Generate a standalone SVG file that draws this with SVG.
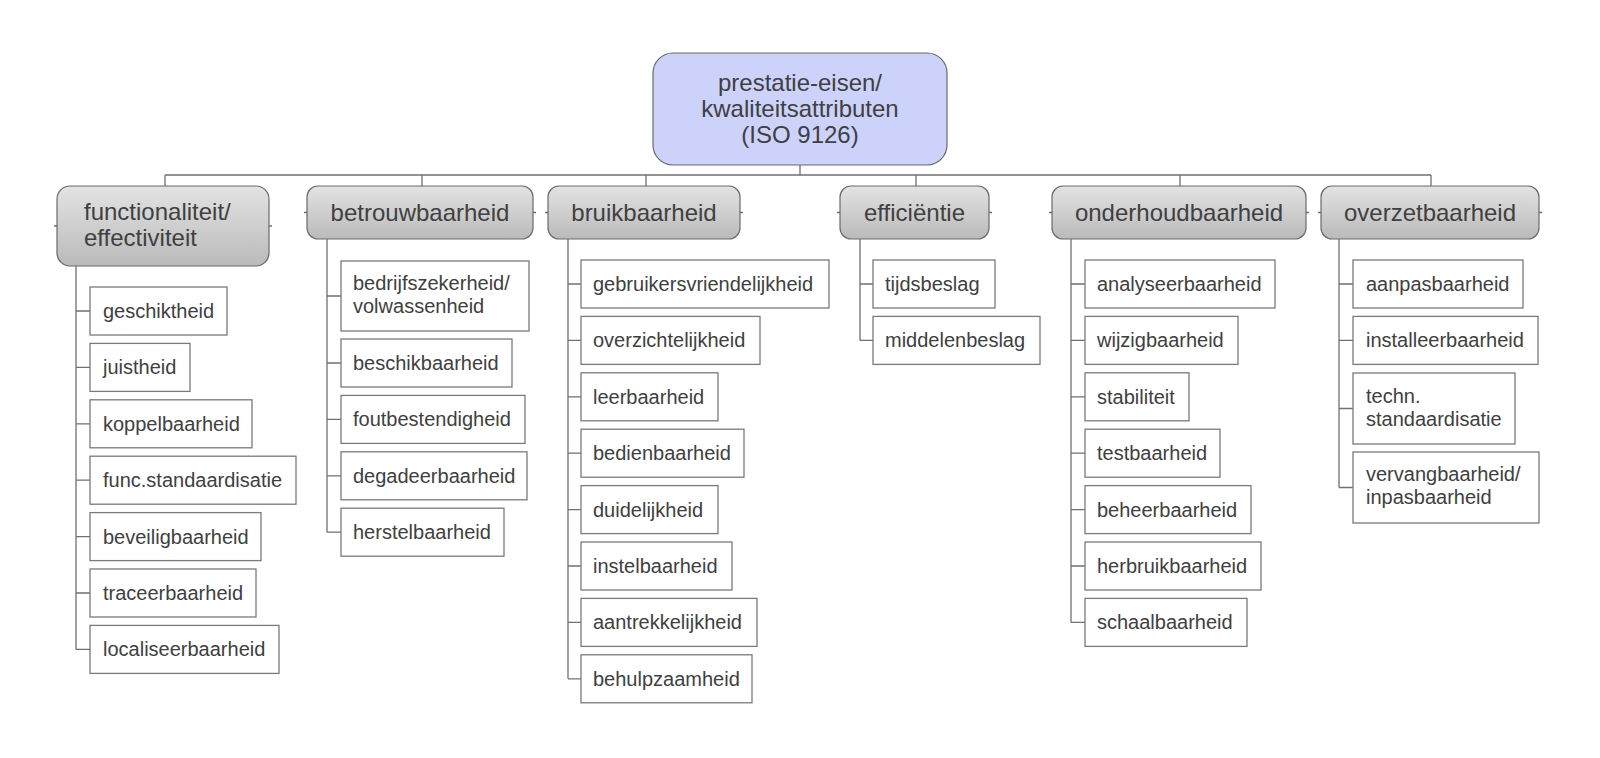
<svg xmlns="http://www.w3.org/2000/svg" width="1600" height="758" viewBox="0 0 1600 758">
<defs>
<linearGradient id="gTop" x1="0" y1="0" x2="0" y2="1">
<stop offset="0" stop-color="#e3e3e3"/>
<stop offset="1" stop-color="#bababa"/>
</linearGradient>
</defs>
<style>
text{font-family:"Liberation Sans",Arial,sans-serif;fill:#404040}
.root rect{fill:#ccd2fa;stroke:#6a6a6a;stroke-width:1.2}
.root text{font-size:24px;text-anchor:middle}
.top rect{fill:url(#gTop);stroke:#6a6a6a;stroke-width:1.2}
.top text{font-size:24px}
.top text.c{text-anchor:middle}
.leaf rect{fill:#fff;stroke:#7a7a7a;stroke-width:1.3}
.leaf text{font-size:20px}
#connectors path{fill:none;stroke:#707070;stroke-width:1.3}
</style>
<rect width="1600" height="758" fill="#fff"/>
<g id="connectors">
<path d="M800 165V175M165 175H1431M165 175V186M422 175V186M646 175V186M916 175V186M1180 175V186M1431 175V186"/>
<path d="M54 226H57M269 226H272M304 212.5H307M533 212.5H536M545 212.5H548M740 212.5H743M837 212.5H840M989 212.5H992M1049 212.5H1052M1306 212.5H1309M1318 212.5H1321M1539 212.5H1542"/>
<path d="M76 266V649.4M76 311H90M76 367.4H90M76 423.8H90M76 480.2H90M76 536.6H90M76 593H90M76 649.4H90"/>
<path d="M327 239V532.2M327 296H341M327 363H341M327 419.4H341M327 475.8H341M327 532.2H341"/>
<path d="M568 239V678.8M568 284H581M568 340.4H581M568 396.8H581M568 453.2H581M568 509.6H581M568 566H581M568 622.4H581M568 678.8H581"/>
<path d="M860 239V340.4M860 284H873M860 340.4H873"/>
<path d="M1071 239V622.4M1071 284H1085M1071 340.4H1085M1071 396.8H1085M1071 453.2H1085M1071 509.6H1085M1071 566H1085M1071 622.4H1085"/>
<path d="M1339 239V487.5M1339 284H1353M1339 340.4H1353M1339 408.5H1353M1339 487.5H1353"/>
</g>
<g id="root" class="root">
<rect x="653" y="53" width="294" height="112" rx="20"/>
<text x="800" y="91">prestatie-eisen/</text>
<text x="800" y="117">kwaliteitsattributen</text>
<text x="800" y="143">(ISO 9126)</text>
</g>
<g id="functionaliteit" class="top">
<rect x="57" y="186" width="212" height="80" rx="13"/>
<text x="84" y="220">functionaliteit/</text>
<text x="84" y="246">effectiviteit</text>
</g>
<g id="betrouwbaarheid" class="top">
<rect x="307" y="186" width="226" height="53" rx="11"/>
<text class="c" x="420" y="221">betrouwbaarheid</text>
</g>
<g id="bruikbaarheid" class="top">
<rect x="548" y="186" width="192" height="53" rx="11"/>
<text class="c" x="644" y="221">bruikbaarheid</text>
</g>
<g id="efficientie" class="top">
<rect x="840" y="186" width="149" height="53" rx="11"/>
<text class="c" x="914.5" y="221">efficiëntie</text>
</g>
<g id="onderhoudbaarheid" class="top">
<rect x="1052" y="186" width="254" height="53" rx="11"/>
<text class="c" x="1179" y="221">onderhoudbaarheid</text>
</g>
<g id="overzetbaarheid" class="top">
<rect x="1321" y="186" width="218" height="53" rx="11"/>
<text class="c" x="1430" y="221">overzetbaarheid</text>
</g>
<g id="geschiktheid" class="leaf"><rect x="90" y="287" width="137" height="48"/><text x="103" y="318">geschiktheid</text></g>
<g id="juistheid" class="leaf"><rect x="90" y="343.4" width="100" height="48"/><text x="103" y="374.4">juistheid</text></g>
<g id="koppelbaarheid" class="leaf"><rect x="90" y="399.8" width="162" height="48"/><text x="103" y="430.8">koppelbaarheid</text></g>
<g id="func-standaardisatie" class="leaf"><rect x="90" y="456.2" width="206" height="48"/><text x="103" y="487.2">func.standaardisatie</text></g>
<g id="beveiligbaarheid" class="leaf"><rect x="90" y="512.6" width="171" height="48"/><text x="103" y="543.6">beveiligbaarheid</text></g>
<g id="traceerbaarheid" class="leaf"><rect x="90" y="569" width="166" height="48"/><text x="103" y="600">traceerbaarheid</text></g>
<g id="localiseerbaarheid" class="leaf"><rect x="90" y="625.4" width="189" height="48"/><text x="103" y="656.4">localiseerbaarheid</text></g>
<g id="bedrijfszekerheid" class="leaf"><rect x="341" y="261" width="188" height="70"/><text x="353" y="290">bedrijfszekerheid/</text><text x="353" y="313">volwassenheid</text></g>
<g id="beschikbaarheid" class="leaf"><rect x="341" y="339" width="171" height="48"/><text x="353" y="370">beschikbaarheid</text></g>
<g id="foutbestendigheid" class="leaf"><rect x="341" y="395.4" width="184" height="48"/><text x="353" y="426.4">foutbestendigheid</text></g>
<g id="degadeerbaarheid" class="leaf"><rect x="341" y="451.8" width="186" height="48"/><text x="353" y="482.8">degadeerbaarheid</text></g>
<g id="herstelbaarheid" class="leaf"><rect x="341" y="508.2" width="163" height="48"/><text x="353" y="539.2">herstelbaarheid</text></g>
<g id="gebruikersvriendelijkheid" class="leaf"><rect x="581" y="260" width="248" height="48"/><text x="593" y="291">gebruikersvriendelijkheid</text></g>
<g id="overzichtelijkheid" class="leaf"><rect x="581" y="316.4" width="179" height="48"/><text x="593" y="347.4">overzichtelijkheid</text></g>
<g id="leerbaarheid" class="leaf"><rect x="581" y="372.8" width="137" height="48"/><text x="593" y="403.8">leerbaarheid</text></g>
<g id="bedienbaarheid" class="leaf"><rect x="581" y="429.2" width="163" height="48"/><text x="593" y="460.2">bedienbaarheid</text></g>
<g id="duidelijkheid" class="leaf"><rect x="581" y="485.6" width="137" height="48"/><text x="593" y="516.6">duidelijkheid</text></g>
<g id="instelbaarheid" class="leaf"><rect x="581" y="542" width="151" height="48"/><text x="593" y="573">instelbaarheid</text></g>
<g id="aantrekkelijkheid" class="leaf"><rect x="581" y="598.4" width="176" height="48"/><text x="593" y="629.4">aantrekkelijkheid</text></g>
<g id="behulpzaamheid" class="leaf"><rect x="581" y="654.8" width="171" height="48"/><text x="593" y="685.8">behulpzaamheid</text></g>
<g id="tijdsbeslag" class="leaf"><rect x="873" y="260" width="122" height="48"/><text x="885" y="291">tijdsbeslag</text></g>
<g id="middelenbeslag" class="leaf"><rect x="873" y="316.4" width="167" height="48"/><text x="885" y="347.4">middelenbeslag</text></g>
<g id="analyseerbaarheid" class="leaf"><rect x="1085" y="260" width="190" height="48"/><text x="1097" y="291">analyseerbaarheid</text></g>
<g id="wijzigbaarheid" class="leaf"><rect x="1085" y="316.4" width="153" height="48"/><text x="1097" y="347.4">wijzigbaarheid</text></g>
<g id="stabiliteit" class="leaf"><rect x="1085" y="372.8" width="104" height="48"/><text x="1097" y="403.8">stabiliteit</text></g>
<g id="testbaarheid" class="leaf"><rect x="1085" y="429.2" width="135" height="48"/><text x="1097" y="460.2">testbaarheid</text></g>
<g id="beheerbaarheid" class="leaf"><rect x="1085" y="485.6" width="166" height="48"/><text x="1097" y="516.6">beheerbaarheid</text></g>
<g id="herbruikbaarheid" class="leaf"><rect x="1085" y="542" width="176" height="48"/><text x="1097" y="573">herbruikbaarheid</text></g>
<g id="schaalbaarheid" class="leaf"><rect x="1085" y="598.4" width="162" height="48"/><text x="1097" y="629.4">schaalbaarheid</text></g>
<g id="aanpasbaarheid" class="leaf"><rect x="1353" y="260" width="170" height="48"/><text x="1366" y="291">aanpasbaarheid</text></g>
<g id="installeerbaarheid" class="leaf"><rect x="1353" y="316.4" width="185" height="48"/><text x="1366" y="347.4">installeerbaarheid</text></g>
<g id="techn-standaardisatie" class="leaf"><rect x="1353" y="373" width="162" height="71"/><text x="1366" y="402.5">techn.</text><text x="1366" y="425.5">standaardisatie</text></g>
<g id="vervangbaarheid" class="leaf"><rect x="1353" y="452" width="186" height="71"/><text x="1366" y="481">vervangbaarheid/</text><text x="1366" y="504">inpasbaarheid</text></g>
</svg>
